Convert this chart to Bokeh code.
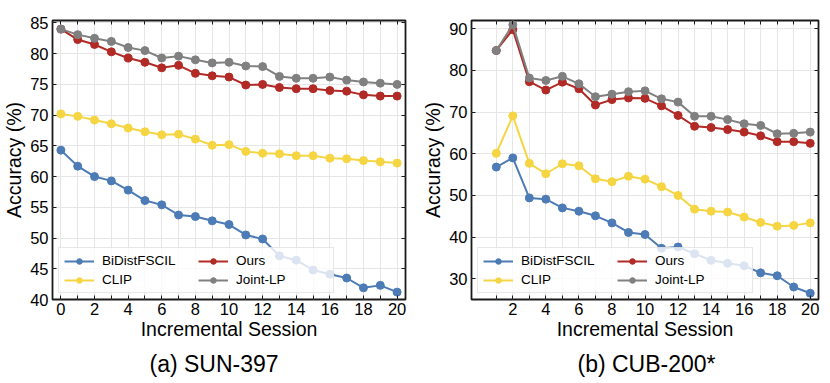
from bokeh.plotting import figure
from bokeh.layouts import row
from bokeh.models import Range1d, FixedTicker, LinearAxis, Title
from bokeh.embed import file_html
from bokeh.resources import INLINE

# ---------------- data ----------------
series_names = ["BiDistFSCIL", "CLIP", "Ours", "Joint-LP"]

sun_sessions = list(range(0, 21))
sun_bidist = [64.3, 61.7, 60.0, 59.3, 57.8, 56.1, 55.4, 53.75, 53.5, 52.8, 52.2,
              50.5, 49.85, 47.1, 46.4, 44.8, 44.1, 43.5, 41.9, 42.3, 41.2]
sun_clip = [70.2, 69.8, 69.2, 68.6, 67.9, 67.3, 66.8, 66.9, 66.1, 65.1, 65.2,
            64.1, 63.8, 63.7, 63.4, 63.4, 63.0, 62.9, 62.6, 62.4, 62.2]
sun_ours = [84.0, 82.3, 81.5, 80.3, 79.3, 78.6, 77.7, 78.1, 76.8, 76.4, 76.2,
            74.9, 75.0, 74.5, 74.3, 74.3, 74.0, 73.9, 73.3, 73.1, 73.1]
sun_joint = [84.0, 83.1, 82.5, 82.0, 81.0, 80.5, 79.3, 79.6, 79.0, 78.5, 78.6,
             78.0, 77.9, 76.3, 76.0, 76.0, 76.2, 75.7, 75.4, 75.2, 75.0]

cub_sessions = list(range(1, 21))
cub_bidist = [56.8, 59.0, 49.4, 49.1, 47.0, 46.2, 45.1, 43.4, 41.1, 40.6,
              37.3, 37.6, 36.0, 34.4, 33.7, 33.1, 31.4, 30.7, 28.0, 26.5]
cub_clip = [60.1, 69.1, 57.7, 55.2, 57.6, 57.1, 54.0, 53.3, 54.6, 53.9,
            52.1, 50.0, 46.7, 46.2, 46.0, 44.8, 43.5, 42.6, 42.8, 43.4]
cub_ours = [84.8, 89.8, 77.3, 75.3, 77.2, 75.6, 71.7, 73.0, 73.4, 73.3,
            71.5, 69.2, 66.6, 66.3, 65.8, 65.2, 64.3, 62.9, 62.9, 62.5]
cub_joint = [84.8, 91.0, 78.2, 77.6, 78.6, 76.8, 73.7, 74.3, 74.9, 75.1,
             73.2, 72.4, 69.0, 69.0, 68.2, 67.2, 66.8, 64.8, 64.9, 65.2]

sun_yticks = [40, 45, 50, 55, 60, 65, 70, 75, 80, 85]
cub_yticks = [30, 40, 50, 60, 70, 80, 90]
sun_xticks = list(range(0, 21))
cub_xticks = list(range(1, 21))

colors = ["#4C7BB5", "#F6D543", "#B22A26", "#808080"]
FONT = "Liberation Sans"
H = 382


def make_panel(xs, ys_list, yr, yticks, xticks, caption, width, min_left, min_right, cap_offset):
    p = figure(width=width, height=H, x_range=Range1d(-0.5, 20.5), y_range=Range1d(*yr),
               output_backend="svg", toolbar_location=None,
               min_border_left=min_left, min_border_right=min_right,
               min_border_top=20, min_border_bottom=H - 299)
    p.outline_line_color = "#1a1a1a"
    p.outline_line_width = 1.8

    for ys, name, c in zip(ys_list, series_names, colors):
        p.line(xs, ys, line_color=c, line_width=2, legend_label=name)
        p.scatter(xs, ys, size=8, fill_color=c, line_color=c, legend_label=name)

    xlabels = {x: (str(x) if x % 2 == 0 else "") for x in xticks}

    xa = p.xaxis[0]
    xa.ticker = FixedTicker(ticks=xticks)
    xa.major_label_overrides = xlabels
    ya = p.yaxis[0]
    ya.ticker = FixedTicker(ticks=yticks)
    for ax in (xa, ya):
        ax.axis_line_color = None
        ax.major_tick_in = 4
        ax.major_tick_out = 0
        ax.minor_tick_line_color = None
        ax.major_tick_line_color = "#1a1a1a"
        ax.major_label_text_font = FONT
        ax.major_label_text_font_size = "16.5px"
        ax.major_label_text_color = "black"
        ax.axis_label_text_font = FONT
        ax.axis_label_text_font_size = "19.5px"
        ax.axis_label_text_font_style = "normal"
        ax.axis_label_text_color = "black"
    xa.axis_label = "Incremental Session"
    ya.axis_label = "Accuracy (%)"
    xa.major_label_standoff = 3
    xa.axis_label_standoff = 0
    ya.major_label_standoff = 4
    ya.axis_label_standoff = 2

    top = LinearAxis(ticker=FixedTicker(ticks=xticks), major_label_text_font_size="0px",
                     major_label_standoff=0, major_tick_in=4, major_tick_out=0,
                     axis_line_color=None, minor_tick_line_color=None,
                     major_tick_line_color="#1a1a1a")
    right = LinearAxis(ticker=FixedTicker(ticks=yticks), major_label_text_font_size="0px",
                       major_label_standoff=0, major_tick_in=4, major_tick_out=0,
                       axis_line_color=None, minor_tick_line_color=None,
                       major_tick_line_color="#1a1a1a")
    top.major_label_overrides = {x: "" for x in xticks}
    right.major_label_overrides = {y: "" for y in yticks}
    p.add_layout(top, "above")
    p.add_layout(right, "right")

    p.xgrid.ticker = FixedTicker(ticks=xticks)
    p.ygrid.ticker = FixedTicker(ticks=yticks)
    p.xgrid.grid_line_color = "#e6e6e6"
    p.ygrid.grid_line_color = "#e6e6e6"
    p.xgrid.grid_line_width = 1
    p.ygrid.grid_line_width = 1

    lg = p.legend[0]
    lg.location = "bottom_left"
    lg.orientation = "vertical"
    lg.ncols = 2
    lg.margin = 6
    lg.padding = 5
    lg.spacing = 4
    lg.glyph_width = 30
    lg.glyph_height = 14
    lg.label_height = 14
    lg.label_width = 92
    lg.label_standoff = 8
    lg.label_text_font = FONT
    lg.label_text_font_size = "13.5px"
    lg.label_text_color = "black"
    lg.border_line_color = "#d0d0d0"
    lg.border_line_width = 1
    lg.background_fill_color = "white"
    lg.background_fill_alpha = 0.8

    t = Title(text=caption, align="left", offset=cap_offset, text_font=FONT,
              text_font_size="23px", text_font_style="normal", text_color="black",
              standoff=12)
    p.add_layout(t, "below")
    return p


p1 = make_panel(sun_sessions, [sun_bidist, sun_clip, sun_ours, sun_joint], (40, 85.4),
                sun_yticks, sun_xticks, "(a) SUN-397", 414, 51, 9, 97)
p2 = make_panel(cub_sessions, [cub_bidist, cub_clip, cub_ours, cub_joint], (25, 92),
                cub_yticks, cub_xticks, "(b) CUB-200*", 415, 57, 11, 106)

layout = row(p1, p2)
open("out.html", "w").write(file_html(layout, INLINE))
